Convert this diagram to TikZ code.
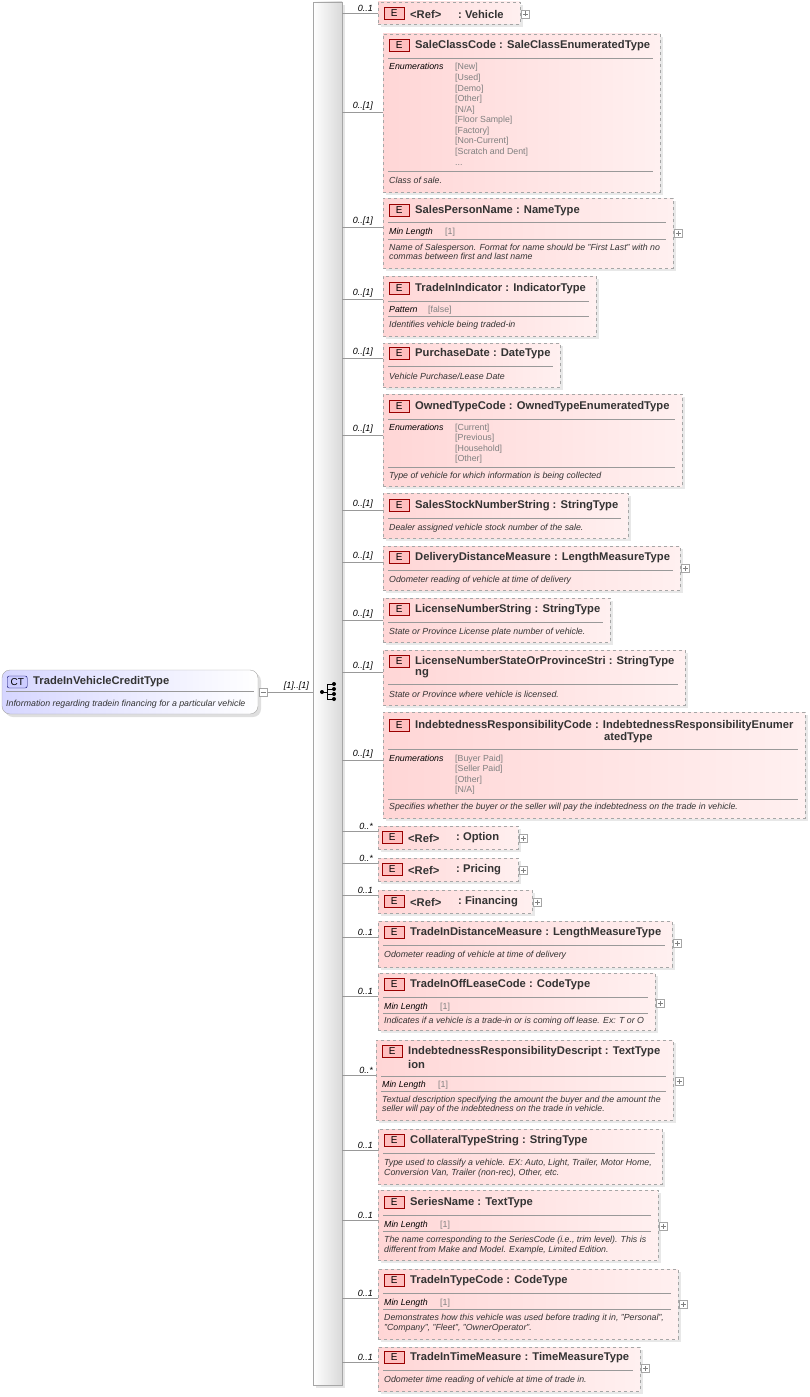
\documentclass[tikz,border=0pt]{standalone}
\usepackage{fontspec}
\setmainfont{Liberation Sans}
\usetikzlibrary{fit}
\definecolor{epink}{RGB}{255,214,214}
\definecolor{epale}{RGB}{255,240,240}
\definecolor{ctblue}{RGB}{214,214,255}
\tikzset{
 ebox/.style={draw=gray!70,dashed,inner sep=0pt,left color=epink,right color=epale,shading angle=90},
 badge/.style={draw=red!60!black,fill=red!25,minimum width=20pt,minimum height=12pt,inner sep=0pt,font=\fontsize{10}{11}\selectfont,anchor=west},
 ttl/.style={anchor=west,inner sep=0pt,font=\fontsize{11.2}{12}\selectfont\bfseries,text=black!80,yshift=-1pt},
 lab/.style={anchor=base west,inner sep=0pt,font=\fontsize{8.8}{10}\selectfont\itshape},
 val/.style={anchor=base west,inner sep=0pt,font=\fontsize{8.8}{10}\selectfont,text=gray},
 desc/.style={anchor=base west,inner sep=0pt,font=\fontsize{8.8}{10}\selectfont\itshape,text=black!80},
 mult/.style={anchor=south east,inner sep=1pt,font=\fontsize{9}{10}\selectfont\itshape},
 conn/.style={draw=gray!80,line width=0.6pt},
 sepl/.style={draw=gray!80,line width=0.5pt},
 pm/.style={draw=gray!70,fill=white,minimum size=8pt,inner sep=0pt}
}
\newcommand\Ebox[7]{%
 \fill[gray!18] (#2+3,#3+3) rectangle (#4+3,#5+3);
 \coordinate (#1a) at (#2,#3); \coordinate (#1b) at (#4,#5);
 \node[ebox,fit=(#1a)(#1b)] (#1) {};
 \coordinate (#1c) at (342,#6);
 \draw[conn] (#1c) -- (#1c -| #1.west);
 \node[mult] at (374,#6) {#7};}
\newcommand\Etitle[4]{%
 \node[badge] (#1E) at (#2+6,#3) {E};
 \node[ttl] (#1T) at (#2+32,#3) {#4};}
\newcommand\Eref[4]{%
 \node[badge] (#1E) at (#2+6,#3) {E};
 \node[ttl] (#1T) at (#2+32,#3) {<Ref>};
 \node[ttl] (#1U) at (#2+80,#3) {:\;#4};}
\newcommand\Sep[3]{\draw[sepl] (#1+5,#3) -- (#2-7,#3);}
\newcommand\Plus[3]{\node[pm] (#1) at (#2,#3) {}; \draw[gray] (#2-2.5,#3) -- (#2+2.5,#3) (#2,#3-2.5) -- (#2,#3+2.5);}
\begin{document}
\begin{tikzpicture}[x=1pt,y=-1pt]
\useasboundingbox (0,0) rectangle (809,1397);
\fill[gray!20] (316,5) rectangle (345,1388);
\node[draw=gray!70,inner sep=0pt,left color=white,right color=gray!30,shading angle=90,fit={(313,2)(342,1385)}] (bar) {};
% CT
\fill[gray!25,rounded corners=8pt] (5,673) rectangle (261,717);
\node[draw=gray!70,rounded corners=8pt,inner sep=0pt,left color=ctblue,right color=white,shading angle=90,fit={(2,670)(258,714)}] (ct) {};
\node[draw=blue!40!black,fill=blue!20,rounded corners=2pt,minimum width=20pt,minimum height=12pt,inner sep=0pt,anchor=west,font=\fontsize{10}{11}\selectfont] (ctb) at (7,682) {CT};
\node[ttl] (ctt) at (33,681) {TradeInVehicleCreditType};
\draw[sepl] (6,691) -- (254,691);
\node[desc] (ctd) at (6,706) {Information regarding tradein financing for a particular vehicle};
\node[pm] (ctm) at (263,692) {}; \draw[gray] (260.5,692) -- (265.5,692);
\draw[conn] (ctm.east) -- (ctm.east -| bar.west);
\node[mult] (ctmul) at (310,692) {[1]..[1]};
% sequence symbol
\draw[line width=0.9pt] (322,692) -- (327,692) (327,684) -- (327,699) (327,684) -- (334,684) (327,689) -- (334,689) (327,694) -- (334,694) (327,699) -- (334,699);
\fill (322,692) circle (2pt) (334,684) circle (2pt) (334,689) circle (2pt) (334,694) circle (2pt) (334,699) circle (2pt);
% 1
\Ebox{e1}{378}{2}{520}{24}{13}{0..1}\Eref{e1}{378}{13}{Vehicle}\Plus{p1}{525}{14}
% 2
\Ebox{e2}{383}{34}{660}{192}{112}{0..[1]}\Etitle{e2}{383}{45}{SaleClassCode : SaleClassEnumeratedType}
\Sep{383}{660}{58}\node[lab] at (389,70) {Enumerations};
\node[val] at (455,70) {[New]};\node[val] at (455,80.5) {[Used]};\node[val] at (455,91) {[Demo]};\node[val] at (455,101.5) {[Other]};\node[val] at (455,112) {[N/A]};\node[val] at (455,122.5) {[Floor Sample]};\node[val] at (455,133) {[Factory]};\node[val] at (455,143.5) {[Non-Current]};\node[val] at (455,154) {[Scratch and Dent]};\node[val] at (455,165) {...};
\Sep{383}{660}{171}\node[desc] at (389,183) {Class of sale.};
% 3
\Ebox{e3}{383}{198}{673}{268}{227}{0..[1]}\Etitle{e3}{383}{210}{SalesPersonName : NameType}\Plus{p3}{678}{233}
\Sep{383}{673}{222}\node[lab] at (389,234) {Min Length};\node[val] at (445,234) {[1]};\Sep{383}{673}{239}
\node[desc] at (389,250) {Name of Salesperson. Format for name should be "First Last" with no};\node[desc] at (389,259) {commas between first and last name};
% 4
\Ebox{e4}{383}{276}{596}{336}{299}{0..[1]}\Etitle{e4}{383}{288}{TradeInIndicator : IndicatorType}
\Sep{383}{596}{301}\node[lab] at (389,312) {Pattern};\node[val] at (428,312) {[false]};\Sep{383}{596}{316}\node[desc] at (389,327) {Identifies vehicle being traded-in};
% 5
\Ebox{e5}{383}{343}{560}{387}{358}{0..[1]}\Etitle{e5}{383}{353}{PurchaseDate : DateType}
\Sep{383}{560}{366}\node[desc] at (389,379) {Vehicle Purchase/Lease Date};
% 6
\Ebox{e6}{383}{394}{682}{486}{435}{0..[1]}\Etitle{e6}{383}{406}{OwnedTypeCode : OwnedTypeEnumeratedType}
\Sep{383}{682}{419}\node[lab] at (389,430) {Enumerations};
\node[val] at (455,430) {[Current]};\node[val] at (455,440.5) {[Previous]};\node[val] at (455,451) {[Household]};\node[val] at (455,461.5) {[Other]};
\Sep{383}{682}{467}\node[desc] at (389,478) {Type of vehicle for which information is being collected};
% 7
\Ebox{e7}{383}{493}{628}{538}{510}{0..[1]}\Etitle{e7}{383}{505}{SalesStockNumberString : StringType}
\Sep{383}{628}{518}\node[desc] at (389,530) {Dealer assigned vehicle stock number of the sale.};
% 8
\Ebox{e8}{383}{546}{680}{590}{562}{0..[1]}\Etitle{e8}{383}{557}{DeliveryDistanceMeasure : LengthMeasureType}\Plus{p8}{685}{568}
\Sep{383}{680}{570}\node[desc] at (389,582) {Odometer reading of vehicle at time of delivery};
% 9
\Ebox{e9}{383}{598}{610}{642}{620}{0..[1]}\Etitle{e9}{383}{609}{LicenseNumberString : StringType}
\Sep{383}{610}{622}\node[desc] at (389,634) {State or Province License plate number of vehicle.};
% 10
\Ebox{e10}{383}{650}{685}{705}{672}{0..[1]}\Etitle{e10}{383}{661}{LicenseNumberStateOrProvinceStri : StringType}
\node[ttl] (e10T2) at (415,673) {ng};
\Sep{383}{685}{684}\node[desc] at (389,697) {State or Province where vehicle is licensed.};
% 11
\Ebox{e11}{383}{712}{805}{818}{760}{0..[1]}\Etitle{e11}{383}{725}{IndebtednessResponsibilityCode : IndebtednessResponsibilityEnumer}
\node[ttl] (e11T2) at (604,737) {atedType};
\Sep{383}{805}{749}\node[lab] at (389,761) {Enumerations};
\node[val] at (455,761) {[Buyer Paid]};\node[val] at (455,771.5) {[Seller Paid]};\node[val] at (455,782) {[Other]};\node[val] at (455,792.5) {[N/A]};
\Sep{383}{805}{799}\node[desc] at (389,809) {Specifies whether the buyer or the seller will pay the indebtedness on the trade in vehicle.};
% 12-14
\Ebox{e12}{378}{826}{518}{849}{831}{0..*}\Eref{e12}{376}{837}{Option}\Plus{p12}{523}{838}
\Ebox{e13}{378}{858}{518}{881}{863}{0..*}\Eref{e13}{376}{869}{Pricing}\Plus{p13}{523}{870}
\Ebox{e14}{378}{890}{532}{913}{895}{0..1}\Eref{e14}{378}{901}{Financing}\Plus{p14}{537}{902}
% 15
\Ebox{e15}{378}{921}{672}{967}{937}{0..1}\Etitle{e15}{378}{932}{TradeInDistanceMeasure : LengthMeasureType}\Plus{p15}{677}{943}
\Sep{378}{672}{945}\node[desc] at (384,957) {Odometer reading of vehicle at time of delivery};
% 16
\Ebox{e16}{378}{973}{655}{1030}{996}{0..1}\Etitle{e16}{378}{984}{TradeInOffLeaseCode : CodeType}\Plus{p16}{660}{1003}
\Sep{378}{655}{997}\node[lab] at (384,1009) {Min Length};\node[val] at (440,1009) {[1]};\Sep{378}{655}{1013}
\node[desc] at (384,1023) {Indicates if a vehicle is a trade-in or is coming off lease. Ex: T or O};
% 17
\Ebox{e17}{376}{1040}{673}{1120}{1075}{0..*}\Etitle{e17}{376}{1051}{IndebtednessResponsibilityDescript : TextType}
\node[ttl] (e17T2) at (408,1063) {ion};\Plus{p17}{679}{1081}
\Sep{376}{673}{1076}\node[lab] at (382,1087) {Min Length};\node[val] at (438,1087) {[1]};\Sep{376}{673}{1091}
\node[desc] at (382,1102) {Textual description specifying the amount the buyer and the amount the};\node[desc] at (382,1111) {seller will pay of the indebtedness on the trade in vehicle.};
% 18
\Ebox{e18}{378}{1129}{662}{1184}{1150}{0..1}\Etitle{e18}{378}{1140}{CollateralTypeString : StringType}
\Sep{378}{662}{1153}\node[desc] at (384,1165) {Type used to classify a vehicle. EX: Auto, Light, Trailer, Motor Home,};\node[desc] at (384,1175) {Conversion Van, Trailer (non-rec), Other, etc.};
% 19
\Ebox{e19}{378}{1190}{658}{1260}{1220}{0..1}\Etitle{e19}{378}{1202}{SeriesName : TextType}\Plus{p19}{663}{1226}
\Sep{378}{658}{1215}\node[lab] at (384,1227) {Min Length};\node[val] at (440,1227) {[1]};\Sep{378}{658}{1231}
\node[desc] at (384,1242) {The name corresponding to the SeriesCode (i.e., trim level). This is};\node[desc] at (384,1252) {different from Make and Model. Example, Limited Edition.};
% 20
\Ebox{e20}{378}{1269}{678}{1339}{1298}{0..1}\Etitle{e20}{378}{1280}{TradeInTypeCode : CodeType}\Plus{p20}{683}{1304}
\Sep{378}{678}{1293}\node[lab] at (384,1305) {Min Length};\node[val] at (440,1305) {[1]};\Sep{378}{678}{1309}
\node[desc] at (384,1320) {Demonstrates how this vehicle was used before trading it in, "Personal",};\node[desc] at (384,1330) {"Company", "Fleet", "OwnerOperator".};
% 21
\Ebox{e21}{378}{1347}{640}{1391}{1362}{0..1}\Etitle{e21}{378}{1357}{TradeInTimeMeasure : TimeMeasureType}\Plus{p21}{645}{1368}
\Sep{378}{640}{1370}\node[desc] at (384,1382) {Odometer time reading of vehicle at time of trade in.};
\end{tikzpicture}
\end{document}
